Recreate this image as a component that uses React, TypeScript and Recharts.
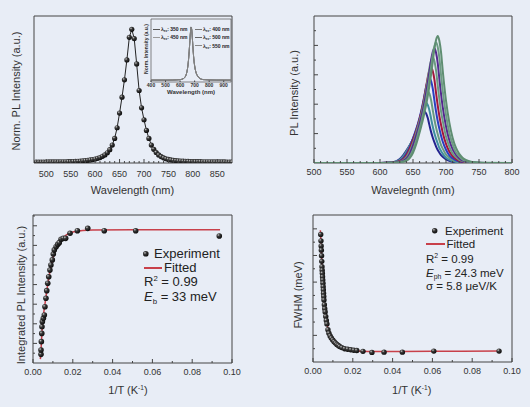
import React from 'react'
import { ComposedChart, LineChart, Line, Scatter, XAxis, YAxis, ReferenceArea } from 'recharts'

const FONT = '"Liberation Sans", Arial, sans-serif'
const BG = '#e8edf6'
const INK = '#333'
const FRAME = '#444'
const RED = '#c8404a'

// --- top left: normalised PL spectrum
const wl1 = [
  480, 485, 490, 495, 500, 505, 510, 515, 520, 525, 530, 535, 540, 545, 550, 555, 560, 565, 570, 575,
  580, 585, 590, 595, 600, 605, 610, 615, 620, 625, 630, 635, 640, 645, 650, 655, 660, 665, 670, 675,
  680, 685, 690, 695, 700, 705, 710, 715, 720, 725, 730, 735, 740, 745, 750, 755, 760, 765, 770, 775,
  780, 785, 790, 795, 800, 805, 810, 815, 820, 825, 830, 835, 840, 845, 850, 855, 860, 865, 870, 875, 880,
]
const norm1 = [
  0.002, 0.002, 0.002, 0.002, 0.002, 0.003, 0.003, 0.003, 0.003, 0.003, 0.004, 0.004, 0.004, 0.005, 0.005, 0.006, 0.007, 0.008, 0.009, 0.011,
  0.013, 0.015, 0.018, 0.021, 0.025, 0.03, 0.036, 0.045, 0.056, 0.072, 0.095, 0.13, 0.18, 0.26, 0.37, 0.49, 0.62, 0.77, 0.94, 1.0,
  0.93, 0.74, 0.54, 0.41, 0.32, 0.24, 0.18, 0.13, 0.098, 0.074, 0.056, 0.043, 0.034, 0.027, 0.022, 0.018, 0.015, 0.013, 0.011, 0.01,
  0.009, 0.008, 0.007, 0.006, 0.006, 0.005, 0.005, 0.005, 0.004, 0.004, 0.004, 0.004, 0.003, 0.003, 0.003, 0.003, 0.003, 0.003, 0.002, 0.002, 0.002,
]
const ticks1 = [
  480, 490, 500, 510, 520, 530, 540, 550, 560, 570, 580, 590, 600, 610, 620, 630, 640, 650, 660, 670,
  680, 690, 700, 710, 720, 730, 740, 750, 760, 770, 780, 790, 800, 810, 820, 830, 840, 850, 860, 870,
]
const ticks1Major = [500, 550, 600, 650, 700, 750, 800, 850]

// inset: spectra at different excitation wavelengths (they coincide)
const insetWl = [400, 500, 550, 600, 620, 630, 640, 650, 655, 660, 665, 670, 675, 680, 685, 690, 695, 700, 710, 720, 730, 740, 760, 800, 850, 950]
const insetNorm = [0, 0, 0.002, 0.01, 0.025, 0.045, 0.09, 0.2, 0.3, 0.45, 0.64, 0.85, 1.0, 0.95, 0.76, 0.55, 0.38, 0.27, 0.14, 0.08, 0.045, 0.025, 0.01, 0.004, 0.001, 0]
const excitation = ['350', '400', '450', '500', '550']
const excitationColors = ['#555', '#777', '#999', '#666', '#888']
const insetTicks = [400, 500, 600, 700, 800, 900]

// --- top right: temperature dependent spectra
const wl2 = [500, 600, 610, 620, 625, 630, 635, 640, 645, 650, 655, 660, 662.5, 665, 667.5, 670, 672.5, 675, 677.5, 680, 682.5, 685, 687.5, 690, 692.5, 695, 700, 705, 710, 715, 720, 725, 730, 740, 750, 760, 800]
const sp1 = [0, 0, 0.007, 0.03, 0.067, 0.14, 0.26, 0.42, 0.6, 0.8, 1.07, 1.4, 1.58, 1.7, 1.75, 1.68, 1.52, 1.28, 1.05, 0.86, 0.7, 0.56, 0.44, 0.35, 0.27, 0.21, 0.126, 0.074, 0.042, 0.025, 0.014, 0.008, 0.004, 0.002, 0, 0, 0]
const sp2 = [0, 0.002, 0.006, 0.025, 0.051, 0.113, 0.226, 0.39, 0.59, 0.82, 1.09, 1.44, 1.64, 1.85, 1.99, 2.05, 1.97, 1.78, 1.5, 1.23, 1.0, 0.82, 0.66, 0.51, 0.41, 0.32, 0.18, 0.113, 0.062, 0.037, 0.02, 0.012, 0.006, 0.002, 0, 0, 0]
const sp3 = [0, 0.002, 0.006, 0.022, 0.044, 0.093, 0.196, 0.37, 0.59, 0.83, 1.13, 1.49, 1.72, 1.96, 2.2, 2.38, 2.45, 2.35, 2.13, 1.79, 1.47, 1.2, 0.98, 0.78, 0.61, 0.49, 0.29, 0.176, 0.103, 0.059, 0.034, 0.02, 0.011, 0.004, 0.002, 0, 0]
const sp4 = [0, 0, 0.006, 0.017, 0.035, 0.073, 0.16, 0.32, 0.55, 0.84, 1.16, 1.54, 1.77, 2.03, 2.32, 2.61, 2.81, 2.9, 2.78, 2.52, 2.12, 1.74, 1.42, 1.16, 0.93, 0.73, 0.45, 0.26, 0.16, 0.087, 0.052, 0.029, 0.017, 0.006, 0.003, 0, 0]
const sp5 = [0, 0, 0.005, 0.015, 0.029, 0.058, 0.124, 0.26, 0.49, 0.78, 1.1, 1.5, 1.72, 1.98, 2.28, 2.6, 2.93, 3.15, 3.25, 3.12, 2.83, 2.37, 1.95, 1.59, 1.3, 1.04, 0.65, 0.39, 0.234, 0.137, 0.078, 0.046, 0.026, 0.008, 0.003, 0, 0]
const sp6 = [0, 0, 0.004, 0.011, 0.022, 0.043, 0.09, 0.2, 0.4, 0.68, 1.04, 1.44, 1.66, 1.91, 2.2, 2.52, 2.88, 3.24, 3.49, 3.6, 3.46, 3.13, 2.63, 2.16, 1.76, 1.44, 0.9, 0.56, 0.32, 0.2, 0.108, 0.065, 0.036, 0.011, 0.004, 0, 0]
const sp7 = [0, 0, 0.003, 0.01, 0.018, 0.035, 0.07, 0.15, 0.31, 0.59, 0.94, 1.33, 1.56, 1.79, 2.07, 2.38, 2.73, 3.12, 3.51, 3.78, 3.9, 3.74, 3.39, 2.85, 2.34, 1.91, 1.25, 0.78, 0.47, 0.28, 0.164, 0.094, 0.055, 0.018, 0.006, 0.003, 0]
const sp8 = [0, 0, 0.002, 0.008, 0.012, 0.025, 0.049, 0.1, 0.23, 0.45, 0.78, 1.19, 1.39, 1.64, 1.89, 2.17, 2.5, 2.87, 3.28, 3.69, 3.98, 4.1, 3.94, 3.57, 2.99, 2.46, 1.64, 1.03, 0.64, 0.37, 0.23, 0.123, 0.074, 0.025, 0.008, 0.004, 0]
const sp9 = [0, 0, 0.002, 0.006, 0.011, 0.019, 0.039, 0.078, 0.164, 0.35, 0.65, 1.04, 1.25, 1.47, 1.73, 1.99, 2.29, 2.64, 3.02, 3.46, 3.89, 4.19, 4.32, 4.15, 3.76, 3.15, 2.12, 1.38, 0.86, 0.52, 0.31, 0.18, 0.104, 0.035, 0.013, 0.006, 0]
const spectra = [sp1, sp2, sp3, sp4, sp5, sp6, sp7, sp8, sp9]
const spectraColors = ['#23238f', '#3f8fa0', '#6a9a80', '#2a3fc0', '#a3163c', '#6b9a82', '#54288e', '#6d9c84', '#5f8e72']
const ticks2 = [500, 510, 520, 530, 540, 550, 560, 570, 580, 590, 600, 610, 620, 630, 640, 650, 660, 670, 680, 690, 700, 710, 720, 730, 740, 750, 760, 770, 780, 790, 800]
const ticks2Major = [500, 550, 600, 650, 700, 750, 800]
const yTicks2 = [0.5, 1, 1.5, 2, 2.5, 3, 3.5, 4, 4.5]
const yTicks2Major = [1, 2, 3, 4]

// --- bottom left: integrated intensity vs 1/T
const invT3 = [0.00402, 0.00402, 0.0042, 0.0044, 0.0045, 0.0047, 0.0052, 0.0057, 0.006, 0.0065, 0.0069, 0.0074, 0.0079, 0.0085, 0.009, 0.0097, 0.0102, 0.0107, 0.0116, 0.0124, 0.0132, 0.0141, 0.0152, 0.0164, 0.0186, 0.0223, 0.0275, 0.0358, 0.0516, 0.0936]
const intensity3 = [0.44, 0.66, 1.09, 1.51, 1.85, 2.11, 2.28, 2.45, 2.87, 3.3, 3.69, 4.07, 4.4, 4.74, 5.0, 5.26, 5.56, 5.77, 5.93, 6.05, 6.14, 6.31, 6.36, 6.36, 6.62, 6.75, 6.87, 6.75, 6.75, 6.48]
const fitInvT3 = [0.0037, 0.004, 0.0043, 0.0046, 0.005, 0.0055, 0.006, 0.0065, 0.007, 0.0075, 0.008, 0.009, 0.01, 0.011, 0.012, 0.013, 0.014, 0.016, 0.018, 0.02, 0.025, 0.03, 0.05, 0.094]
const fitIntensity3 = [0.2, 0.6, 1.2, 1.75, 2.25, 2.65, 3.0, 3.35, 3.72, 4.06, 4.38, 4.92, 5.35, 5.68, 5.93, 6.12, 6.27, 6.48, 6.6, 6.68, 6.76, 6.78, 6.8, 6.8]
const yTicks3 = [0.5, 1, 1.5, 2, 2.5, 3, 3.5, 4, 4.5, 5, 5.5, 6, 6.5, 7, 7.5]
const yTicks3Major = [1, 2, 3, 4, 5, 6, 7]

// --- bottom right: FWHM vs 1/T
const invT4 = [0.00387, 0.004, 0.0041, 0.0042, 0.0043, 0.0044, 0.0045, 0.0046, 0.0047, 0.0048, 0.0049, 0.005, 0.0051, 0.0052, 0.0053, 0.0054, 0.0055, 0.0057, 0.0059, 0.0061, 0.0064, 0.0067, 0.007, 0.0075, 0.008, 0.0086, 0.0092, 0.0099, 0.0106, 0.0113, 0.012, 0.0127, 0.0134, 0.0145, 0.0159, 0.0174, 0.019, 0.0205, 0.022, 0.0251, 0.0296, 0.0357, 0.0449, 0.0607, 0.0935]
const fwhm4 = [4.79, 4.55, 4.36, 4.2, 3.99, 3.78, 3.58, 3.45, 3.33, 3.2, 3.08, 2.96, 2.83, 2.71, 2.58, 2.46, 2.33, 2.15, 2.0, 1.88, 1.71, 1.56, 1.43, 1.21, 1.08, 0.98, 0.9, 0.83, 0.76, 0.71, 0.66, 0.62, 0.58, 0.54, 0.5, 0.48, 0.46, 0.44, 0.43, 0.4, 0.36, 0.37, 0.37, 0.41, 0.41]
const fitInvT4 = [0.0037, 0.004, 0.0045, 0.005, 0.0055, 0.006, 0.0065, 0.007, 0.008, 0.009, 0.01, 0.011, 0.012, 0.014, 0.016, 0.018, 0.02, 0.025, 0.03, 0.04, 0.06, 0.094]
const fitFwhm4 = [4.95, 4.55, 3.6, 2.96, 2.36, 1.95, 1.66, 1.43, 1.1, 0.92, 0.8, 0.72, 0.66, 0.56, 0.5, 0.46, 0.43, 0.4, 0.39, 0.39, 0.4, 0.41]
const yTicks4 = [0.5, 1, 1.5, 2, 2.5, 3, 3.5, 4, 4.5, 5]
const yTicks4Major = [1, 2, 3, 4, 5]

const invTTicks = [0, 0.01, 0.02, 0.03, 0.04, 0.05, 0.06, 0.07, 0.08, 0.09, 0.1]
const invTTicksMajor = [0, 0.02, 0.04, 0.06, 0.08, 0.1]

const pairs = (xs: number[], ys: number[]) => xs.map((x, i) => ({ x, y: ys[i] }))

const isIn = (list: number[], v: number) => list.some((m) => Math.abs(m - v) < 1e-9)

function BottomTick(props: any) {
  const { x = 0, y = 0, payload, majors, gap, len, size, digits, bold } = props
  const v = payload ? payload.value : 0
  const major = isIn(majors, v)
  const ay = y - gap
  return (
    <g>
      {len > 0 && <line x1={x} x2={x} y1={ay} y2={ay - (major ? len : len / 2)} stroke={FRAME} />}
      {major && (
        <text x={x} y={y} dy="0.71em" textAnchor="middle" fontSize={size} fontFamily={FONT} fontWeight={bold ? 700 : 400} fill={INK}>
          {v.toFixed(digits)}
        </text>
      )}
    </g>
  )
}

function LeftTick(props: any) {
  const { x = 0, y = 0, payload, majors, len } = props
  const major = isIn(majors, payload ? payload.value : 0)
  return <line x1={x} x2={x + (major ? len : len / 2)} y1={y} y2={y} stroke={FRAME} />
}

const sphere = (r: number) => (p: any) => <circle cx={p.cx} cy={p.cy} r={r} fill="url(#sph)" />

function CText({ cx, cy, size = 11, rotate = false, bold = false, children }: any) {
  const lh = size + 3
  return (
    <div
      style={{
        position: 'absolute',
        left: cx - 150,
        top: cy - lh / 2,
        width: 300,
        lineHeight: `${lh}px`,
        fontSize: size,
        fontWeight: bold ? 700 : 400,
        textAlign: 'center',
        color: INK,
        whiteSpace: 'nowrap',
        transform: rotate ? 'rotate(-90deg)' : undefined,
      }}
    >
      {children}
    </div>
  )
}

function LText({ x, cy, size = 13, children }: any) {
  const lh = size + 3
  return (
    <div style={{ position: 'absolute', left: x, top: cy - lh / 2, lineHeight: `${lh}px`, fontSize: size, color: '#222', whiteSpace: 'nowrap' }}>
      {children}
    </div>
  )
}

const Sup = ({ children }: any) => <span style={{ fontSize: '0.6em', position: 'relative', top: '-0.65em' }}>{children}</span>
const Sub = ({ children }: any) => <span style={{ fontSize: '0.6em', position: 'relative', top: '0.35em' }}>{children}</span>

function Dot({ cx, cy, r }: any) {
  return (
    <svg style={{ position: 'absolute', left: cx - r - 1, top: cy - r - 1 }} width={2 * r + 2} height={2 * r + 2}>
      <circle cx={r + 1} cy={r + 1} r={r} fill="url(#sph)" />
    </svg>
  )
}

function Dash({ x1, x2, cy, color, w = 1.6 }: any) {
  return <div style={{ position: 'absolute', left: x1, top: cy - w / 2, width: x2 - x1, height: w, background: color }} />
}

function SpectrumPanel() {
  const pts = pairs(wl1, norm1)
  return (
    <div style={{ position: 'absolute', left: 0, top: 0 }}>
      <ComposedChart width={265} height={205} margin={{ top: 16, right: 33, bottom: 0, left: 0 }}>
        <XAxis
          type="number"
          dataKey="x"
          domain={[475, 880]}
          allowDataOverflow
          ticks={ticks1}
          interval={0}
          height={42}
          axisLine={false}
          tickLine={false}
          tickSize={0}
          tickMargin={8}
          tick={<BottomTick majors={ticks1Major} gap={8} len={4} size={9} digits={0} />}
        />
        <YAxis type="number" dataKey="y" domain={[-0.005, 1.1]} allowDataOverflow width={34} tick={false} axisLine={false} tickLine={false} />
        <ReferenceArea x1={475} x2={880} y1={-0.005} y2={1.1} fill="none" stroke={FRAME} strokeWidth={1} ifOverflow="visible" />
        <Line data={pts} dataKey="y" type="linear" stroke="#222" strokeWidth={1} dot={false} isAnimationActive={false} />
        <Scatter data={pts} shape={sphere(2.6)} isAnimationActive={false} />
      </ComposedChart>
    </div>
  )
}

function InsetPanel() {
  const rows = insetWl.map((w, i) => ({ wl: w, v: insetNorm[i] }))
  return (
    <div style={{ position: 'absolute', left: 140, top: 14 }}>
      <LineChart width={100} height={86} data={rows} margin={{ top: 5, right: 9, bottom: 0, left: 0 }}>
        <XAxis
          type="number"
          dataKey="wl"
          domain={[400, 950]}
          allowDataOverflow
          ticks={insetTicks}
          interval={0}
          height={18}
          axisLine={false}
          tickLine={false}
          tickSize={0}
          tickMargin={1}
          tick={<BottomTick majors={insetTicks} gap={1} len={1.5} size={5} digits={0} bold />}
        />
        <YAxis type="number" domain={[-0.035, 1.15]} allowDataOverflow width={11} tick={false} axisLine={false} tickLine={false} />
        <ReferenceArea x1={400} x2={950} y1={-0.035} y2={1.15} fill="none" stroke="#555" strokeWidth={0.7} ifOverflow="visible" />
        {excitation.map((e, i) => (
          <Line key={e} dataKey="v" name={`λex: ${e} nm`} type="monotone" stroke={excitationColors[i]} strokeWidth={0.8} dot={false} isAnimationActive={false} />
        ))}
      </LineChart>
    </div>
  )
}

function InsetLegend() {
  const slots = [
    { x: 153, y: 29 },
    { x: 195, y: 29 },
    { x: 153, y: 37.3 },
    { x: 195, y: 37.3 },
    { x: 195, y: 45.6 },
  ]
  return (
    <>
      {excitation.map((e, i) => (
        <React.Fragment key={e}>
          <Dash x1={slots[i].x} x2={slots[i].x + 7} cy={slots[i].y} color={excitationColors[i]} w={0.7} />
          <LText x={slots[i].x + 8} cy={slots[i].y} size={5}>
            <b>
              λ<Sub>ex</Sub>: {e} nm
            </b>
          </LText>
        </React.Fragment>
      ))}
      <CText cx={145.5} cy={49} size={5} rotate bold>
        Norm. Intensity (a.u.)
      </CText>
      <CText cx={191} cy={92} size={6} bold>
        Wavelength (nm)
      </CText>
    </>
  )
}

function TemperaturePanel() {
  const rows = wl2.map((w, i) => {
    const r: any = { wl: w }
    spectra.forEach((s, k) => (r[`s${k}`] = s[i]))
    return r
  })
  return (
    <div style={{ position: 'absolute', left: 265, top: 0 }}>
      <LineChart width={265} height={205} data={rows} margin={{ top: 16, right: 18, bottom: 0, left: 0 }}>
        <XAxis
          type="number"
          dataKey="wl"
          domain={[500, 800]}
          allowDataOverflow
          ticks={ticks2}
          interval={0}
          height={42}
          axisLine={false}
          tickLine={false}
          tickSize={0}
          tickMargin={6}
          tick={<BottomTick majors={ticks2Major} gap={6} len={4} size={9} digits={0} />}
        />
        <YAxis
          type="number"
          domain={[0, 5]}
          allowDataOverflow
          ticks={yTicks2}
          interval={0}
          width={49}
          axisLine={false}
          tickLine={false}
          tickSize={0}
          tickMargin={0}
          tick={<LeftTick majors={yTicks2Major} len={4} />}
        />
        <ReferenceArea x1={500} x2={800} y1={0} y2={5} fill="none" stroke={FRAME} strokeWidth={1} ifOverflow="visible" />
        {spectra.map((_, k) => (
          <Line key={k} dataKey={`s${k}`} type="monotone" stroke={spectraColors[k]} strokeWidth={2} dot={false} isAnimationActive={false} />
        ))}
      </LineChart>
    </div>
  )
}

function InvTPanel({ left, yAxisWidth, right, xHeight, domainMax, yTicks, yMajors, pts, fit, r }: any) {
  return (
    <div style={{ position: 'absolute', left, top: 205 }}>
      <ComposedChart width={265} height={202} margin={{ top: 10, right, bottom: 0, left: 0 }}>
        <XAxis
          type="number"
          dataKey="x"
          domain={[0, 0.1]}
          allowDataOverflow
          ticks={invTTicks}
          interval={0}
          height={xHeight}
          axisLine={false}
          tickLine={false}
          tickSize={0}
          tickMargin={6}
          tick={<BottomTick majors={invTTicksMajor} gap={6} len={4} size={9} digits={2} />}
        />
        <YAxis
          type="number"
          dataKey="y"
          domain={[0, domainMax]}
          allowDataOverflow
          ticks={yTicks}
          interval={0}
          width={yAxisWidth}
          axisLine={false}
          tickLine={false}
          tickSize={0}
          tickMargin={0}
          tick={<LeftTick majors={yMajors} len={4} />}
        />
        <ReferenceArea x1={0} x2={0.1} y1={0} y2={domainMax} fill="none" stroke={FRAME} strokeWidth={1} ifOverflow="visible" />
        <Scatter data={pts} shape={sphere(r)} isAnimationActive={false} />
        <Line data={fit} dataKey="y" type="monotone" stroke={RED} strokeWidth={1.5} dot={false} isAnimationActive={false} />
      </ComposedChart>
    </div>
  )
}

export default function App() {
  return (
    <div style={{ position: 'absolute', left: 0, top: 0, width: 530, height: 407, background: BG, fontFamily: FONT, overflow: 'hidden' }}>
      <svg width={0} height={0} style={{ position: 'absolute' }}>
        <defs>
          <radialGradient id="sph" cx="35%" cy="32%" r="70%">
            <stop offset="0%" stopColor="#c8c8c8" />
            <stop offset="35%" stopColor="#3a3a3a" />
            <stop offset="100%" stopColor="#0a0a0a" />
          </radialGradient>
        </defs>
      </svg>

      <SpectrumPanel />
      <InsetPanel />
      <InsetLegend />
      <CText cx={15.7} cy={90.5} rotate>
        Norm. PL Intensity (a.u.)
      </CText>
      <CText cx={132.5} cy={190}>
        Wavelength (nm)
      </CText>

      <TemperaturePanel />
      <CText cx={293.5} cy={93} rotate>
        PL Intensity (a.u.)
      </CText>
      <CText cx={413} cy={190}>
        Wavelegnth (nm)
      </CText>

      <InvTPanel
        left={0}
        yAxisWidth={33}
        right={33}
        xHeight={44}
        domainMax={7.55}
        yTicks={yTicks3}
        yMajors={yTicks3Major}
        pts={pairs(invT3, intensity3)}
        fit={pairs(fitInvT3, fitIntensity3)}
        r={2.8}
      />
      <CText cx={20.7} cy={295} rotate>
        Integrated PL Intensity (a.u.)
      </CText>
      <CText cx={128} cy={390}>
        1/T (K<Sup>-1</Sup>)
      </CText>
      <Dot cx={145.7} cy={254} r={2.8} />
      <LText x={154} cy={254}>Experiment</LText>
      <Dash x1={144} x2={162} cy={268} color={RED} />
      <LText x={164} cy={268}>Fitted</LText>
      <LText x={144} cy={282}>
        R<Sup>2</Sup> = 0.99
      </LText>
      <LText x={144} cy={297}>
        <i>E</i>
        <Sub>b</Sub> = 33 meV
      </LText>

      <InvTPanel
        left={265}
        yAxisWidth={48}
        right={18}
        xHeight={45}
        domainMax={5.52}
        yTicks={yTicks4}
        yMajors={yTicks4Major}
        pts={pairs(invT4, fwhm4)}
        fit={pairs(fitInvT4, fitFwhm4)}
        r={2.7}
      />
      <CText cx={298.3} cy={295} rotate>
        FWHM (meV)
      </CText>
      <CText cx={411.7} cy={390}>
        1/T (K<Sup>-1</Sup>)
      </CText>
      <Dot cx={435} cy={231} r={2.7} />
      <LText x={445} cy={231} size={11.5}>Experiment</LText>
      <Dash x1={426} x2={445} cy={244} color={RED} />
      <LText x={446.5} cy={244} size={11.5}>Fitted</LText>
      <LText x={426} cy={259} size={11.5}>
        R<Sup>2</Sup> = 0.99
      </LText>
      <LText x={426} cy={273} size={11.5}>
        <i>E</i>
        <Sub>ph</Sub> = 24.3 meV
      </LText>
      <LText x={426} cy={286} size={11.5}>
        σ = 5.8 μeV/K
      </LText>
    </div>
  )
}
